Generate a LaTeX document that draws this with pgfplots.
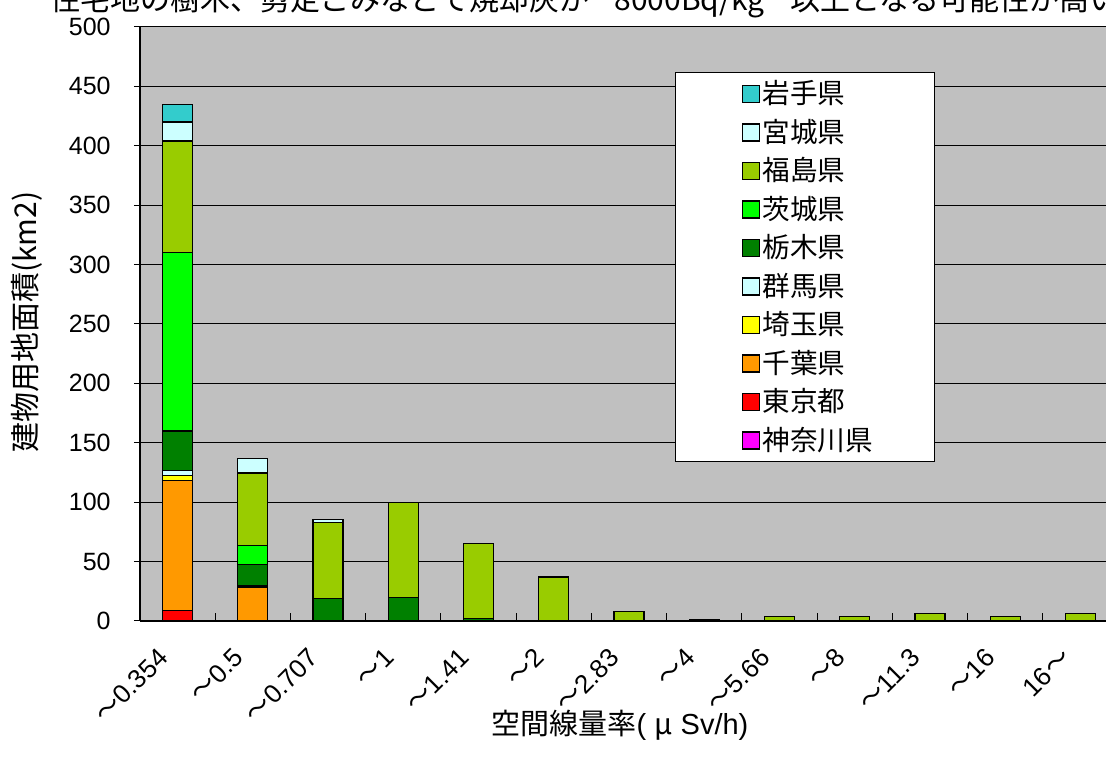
\documentclass[border=0pt]{standalone}
\usepackage{fontspec}
\setmainfont{Liberation Sans}
\newfontfamily\cjk{Noto Sans CJK JP}
\usepackage{pgfplots}
\pgfplotsset{compat=1.18}
\definecolor{bg}{RGB}{192,192,192}
\definecolor{iwate}{RGB}{51,204,204}
\definecolor{miyagi}{RGB}{204,255,255}
\definecolor{fukushima}{RGB}{153,204,0}
\definecolor{ibaraki}{RGB}{0,255,0}
\definecolor{tochigi}{RGB}{0,128,0}
\definecolor{gunma}{RGB}{204,255,255}
\definecolor{saitama}{RGB}{255,255,0}
\definecolor{chiba}{RGB}{255,153,0}
\definecolor{tokyo}{RGB}{255,0,0}
\definecolor{kanagawa}{RGB}{255,0,255}
\begin{document}
\begin{tikzpicture}
\begin{axis}[
  at={(0pt,0pt)}, anchor=south west,
  scale only axis, width=489pt, height=297pt,
  xmin=-0.5, xmax=12.5, ymin=0, ymax=500,
  ybar stacked, bar width=15pt,
  axis x line*=bottom, axis y line*=left,
  axis line style={black, line width=0.6pt, -},
  axis background/.style={fill=bg},
  ymajorgrids, grid style={black, line width=0.5pt},
  ytick={0,50,...,500},
  xtick={0,...,12},
  xticklabels={{\cjk 〜}0.354,{\cjk 〜}0.5,{\cjk 〜}0.707,{\cjk 〜}1,{\cjk 〜}1.41,{\cjk 〜}2,{\cjk 〜}2.83,{\cjk 〜}4,{\cjk 〜}5.66,{\cjk 〜}8,{\cjk 〜}11.3,{\cjk 〜}16,16{\cjk 〜}},
  minor xtick={0.5,1.5,...,11.5},
  major x tick style={draw=none},
  minor x tick style={black, line width=0.5pt},
  minor tick length=4pt,
  xtick align=inside,
  ytick align=outside,
  major tick length=3pt,
  major y tick style={black, line width=0.5pt},
  /pgf/number format/assume math mode=true,
  yticklabel style={font=\fontsize{12.5}{14}\selectfont, anchor=east, inner sep=0pt, xshift=-11.5pt},
  xticklabel style={font=\fontsize{13}{15}\selectfont, inner sep=0pt, xshift=-7pt, yshift=-16pt, rotate=45, anchor=east},
  xlabel={{\cjk 空間線量率}( {\cjk μ} Sv/h)},
  ylabel={\cjk 建物用地面積(km2)},
  xlabel style={font=\fontsize{14.5}{16}\selectfont, at={(axis description cs:0.4908,-0.176)}, anchor=center},
  ylabel style={font=\fontsize{15}{17}\selectfont, at={(axis description cs:-0.1155,0.503)}, anchor=center, rotate=0},
  reverse legend,
  legend cell align=left,
  legend image code/.code={\path[draw=none,fill=none] (0pt,0pt) -- (4pt,0pt); \draw[#1, line width=0.6pt] (4pt,-4.25pt) rectangle (12.5pt,4.25pt);},
  legend style={at={(axis description cs:0.547,0.924)}, anchor=north west, draw=black, line width=0.6pt, fill=white,
    inner xsep=29.5pt, inner ysep=1pt, row sep=0pt,
    font=\cjk\fontsize{13.8}{15}\selectfont,
    nodes={inner ysep=0pt, inner xsep=1.2pt, text height=14.5pt, text depth=4.75pt}},
]
% Kanagawa
\addplot[fill=kanagawa, draw=black, line width=0.6pt] coordinates {(0,0) (1,0) (2,0) (3,0) (4,0) (5,0) (6,0) (7,0) (8,0) (9,0) (10,0) (11,0) (12,0)};
% Tokyo
\addplot[fill=tokyo, draw=black, line width=0.6pt] coordinates {(0,9) (1,0) (2,0) (3,0) (4,0) (5,0) (6,0) (7,0) (8,0) (9,0) (10,0) (11,0) (12,0)};
% Chiba
\addplot[fill=chiba, draw=black, line width=0.6pt] coordinates {(0,109.5) (1,28) (2,0) (3,0) (4,0) (5,0) (6,0) (7,0) (8,0) (9,0) (10,0) (11,0) (12,0)};
% Saitama
\addplot[fill=saitama, draw=black, line width=0.6pt] coordinates {(0,4) (1,0) (2,0) (3,0) (4,0) (5,0) (6,0) (7,0) (8,0) (9,0) (10,0) (11,0) (12,0)};
% Gunma
\addplot[fill=gunma, draw=black, line width=0.6pt] coordinates {(0,4.5) (1,1.5) (2,0) (3,0) (4,0) (5,0) (6,0) (7,0) (8,0) (9,0) (10,0) (11,0) (12,0)};
% Tochigi
\addplot[fill=tochigi, draw=black, line width=0.6pt] coordinates {(0,33) (1,18) (2,19) (3,20) (4,2) (5,0.5) (6,0) (7,0) (8,0) (9,0) (10,0) (11,0) (12,0)};
% Ibaraki
\addplot[fill=ibaraki, draw=black, line width=0.6pt] coordinates {(0,150) (1,16) (2,0) (3,0) (4,0) (5,0) (6,0) (7,0) (8,0) (9,0) (10,0) (11,0) (12,0)};
% Fukushima
\addplot[fill=fukushima, draw=black, line width=0.6pt] coordinates {(0,94) (1,61) (2,64) (3,79.5) (4,63) (5,36.5) (6,8) (7,1.2) (8,3.5) (9,3.5) (10,6.5) (11,3.8) (12,6.5)};
% Miyagi
\addplot[fill=miyagi, draw=black, line width=0.6pt] coordinates {(0,16) (1,12) (2,2.5) (3,0.5) (4,0) (5,0) (6,0) (7,0) (8,0) (9,0) (10,0) (11,0) (12,0)};
% Iwate
\addplot[fill=iwate, draw=black, line width=0.6pt] coordinates {(0,15) (1,0) (2,0) (3,0) (4,0) (5,0) (6,0) (7,0) (8,0) (9,0) (10,0) (11,0) (12,0)};
\legend{神奈川県,東京都,千葉県,埼玉県,群馬県,栃木県,茨城県,福島県,宮城県,岩手県}
\end{axis}
\node[anchor=base west, font=\cjk\fontsize{15}{18}\selectfont, inner sep=0pt] at (-45pt,305pt) {\makebox[282pt][l]{住宅地の樹木、剪定ごみなどで焼却灰が}\makebox[88pt][l]{8000Bq/kg}以上となる可能性が高い地域};
\pgfresetboundingbox
\useasboundingbox (-70pt,-71pt) rectangle (483pt,310.5pt);
\end{tikzpicture}
\end{document}
